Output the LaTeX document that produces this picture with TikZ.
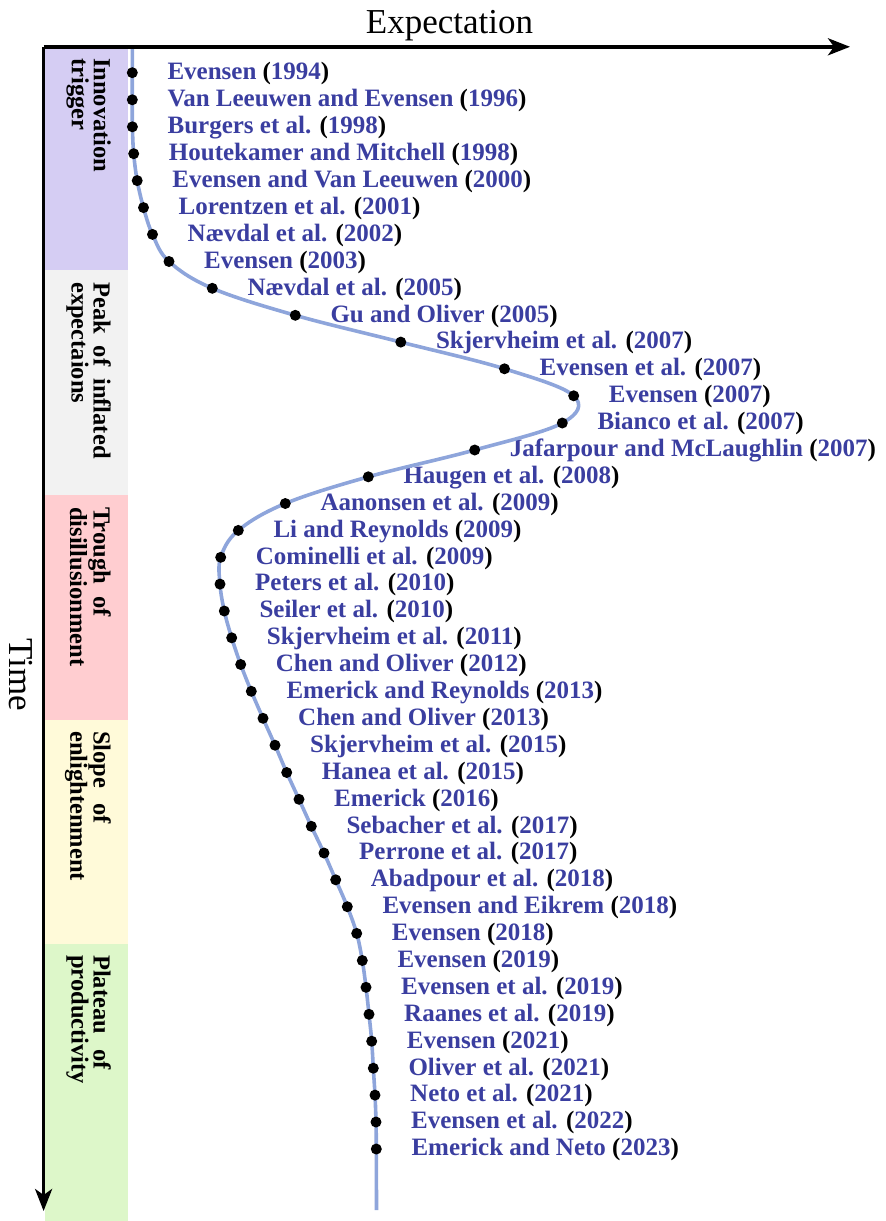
\documentclass[tikz,border=0pt]{standalone}
\usepackage{fontspec}
\setmainfont{Liberation Serif}
\usetikzlibrary{arrows.meta}
\definecolor{citeblue}{RGB}{58,62,160}
\definecolor{curveblue}{RGB}{142,165,219}
\definecolor{bandA}{RGB}{213,205,243}
\definecolor{bandB}{RGB}{242,242,242}
\definecolor{bandC}{RGB}{255,205,208}
\definecolor{bandD}{RGB}{255,250,217}
\definecolor{bandE}{RGB}{221,247,201}
\newcommand{\cit}[2]{{\color{citeblue}#1} ({\color{citeblue}#2})}
\newcommand{\wsp}[1]{\hspace{#1pt}}
\begin{document}
\begin{tikzpicture}[x=1pt,y=-1pt,
  axisline/.style={line width=3.6pt,-{Stealth[length=22pt,width=17pt,inset=6pt]}},
  axlab/.style={inner sep=0pt,font=\fontsize{35}{40}\selectfont},
  bandlab/.style={inner sep=0pt,rotate=-90,anchor=north west,align=left,font=\fontsize{24.5}{22}\selectfont\bfseries},
  dotnode/.style={circle,fill=black,inner sep=0pt,minimum size=11pt},
  citlab/.style={inner sep=0pt,anchor=base west,font=\fontsize{25}{27}\selectfont\bfseries},
  hype/.style={line width=3.6pt,color=curveblue}]
\useasboundingbox (0,0) rectangle (886,1221);
% bands
\fill[bandA] (45,46) rectangle (128,270);
\fill[bandB] (45,270) rectangle (128,495);
\fill[bandC] (45,495) rectangle (128,720);
\fill[bandD] (45,720) rectangle (128,944);
\fill[bandE] (45,944) rectangle (128,1221);
\node[bandlab] (bA) at (111,58) {Innovation\\trigger};
\node[bandlab] (bB) at (111,282) {Peak\wsp{12}of\wsp{12}inflated\\expectaions};
\node[bandlab] (bC) at (111,507) {Trough\wsp{12.5}of\\disillusionment};
\node[bandlab] (bD) at (111,731) {Slope\wsp{15}of\\enlightenment};
\node[bandlab] (bE) at (111,955) {Plateau\wsp{15}of\\productivity};
% points
\foreach \xx/\yy/\nm/\yr [count=\i] in {
132.3/72.7/Evensen/1994,
132.3/99.8/Van Leeuwen and Evensen/1996,
132.4/126.8/Burgers et al./1998,
133.7/153.7/Houtekamer and Mitchell/1998,
137.2/180.6/Evensen and Van Leeuwen/2000,
143.5/207.6/Lorentzen et al./2001,
152.5/234.4/Nævdal et al./2002,
169.0/261.5/Evensen/2003,
212.3/288.3/Nævdal et al./2005,
295.3/315.3/Gu and Oliver/2005,
400.8/342.1/Skjervheim et al./2007,
504.5/368.8/Evensen et al./2007,
573.7/395.8/Evensen/2007,
562.3/423.0/Bianco et al./2007,
474.7/450.0/Jafarpour and McLaughlin/2007,
368.3/476.8/Haugen et al./2008,
285.3/503.5/Aanonsen et al./2009,
238.3/530.4/Li and Reynolds/2009,
220.7/557.3/Cominelli et al./2009,
220.0/584.1/Peters et al./2010,
224.3/611.0/Seiler et al./2010,
231.7/637.8/Skjervheim et al./2011,
240.7/664.5/Chen and Oliver/2012,
251.3/691.3/Emerick and Reynolds/2013,
263.0/718.3/Chen and Oliver/2013,
275.0/745.2/Skjervheim et al./2015,
286.7/772.5/Hanea et al./2015,
299.0/799.3/Emerick/2016,
311.3/826.3/Sebacher et al./2017,
324.0/853.0/Perrone et al./2017,
335.7/879.8/Abadpour et al./2018,
347.3/906.7/Evensen and Eikrem/2018,
356.7/933.4/Evensen/2018,
362.3/960.5/Evensen/2019,
366.0/987.3/Evensen et al./2019,
369.0/1014.3/Raanes et al./2019,
371.7/1041.2/Evensen/2021,
373.3/1068.2/Oliver et al./2021,
375.0/1095.1/Neto et al./2021,
376.0/1122.0/Evensen et al./2022,
376.3/1149.0/Emerick and Neto/2023}
{
  \coordinate (p\i) at (\xx,\yy);
  \node[citlab] (l\i) at ([xshift=35pt,yshift=-6.8pt]p\i) {\cit{\nm}{\yr}};
}
\coordinate (ctop) at (132.3,46);
\coordinate (cbot) at (376.5,1210);
\draw[hype] plot[smooth,tension=0.6] coordinates {(ctop) (p1) (p2) (p3) (p4) (p5) (p6) (p7) (p8) (p9) (p10) (p11) (p12) (p13) (p14) (p15) (p16) (p17) (p18) (p19) (p20) (p21) (p22) (p23) (p24) (p25) (p26) (p27) (p28) (p29) (p30) (p31) (p32) (p33) (p34) (p35) (p36) (p37) (p38) (p39) (p40) (p41) (cbot)};
\foreach \i in {1,...,41} { \node[dotnode] (d\i) at (p\i) {}; }
% axes
\coordinate (orig) at (43.6,46.8);
\coordinate (xend) at (850,46.8);
\coordinate (yend) at (43.6,1211);
\draw[axisline] (orig) -- (xend);
\draw[axisline] (orig) -- (yend);
\node[axlab,anchor=base] (xlab) at (449.5,33) {Expectation};
\node[axlab,anchor=base,rotate=-90] (ylab) at (9.5,675) {Time};
\end{tikzpicture}
\end{document}
